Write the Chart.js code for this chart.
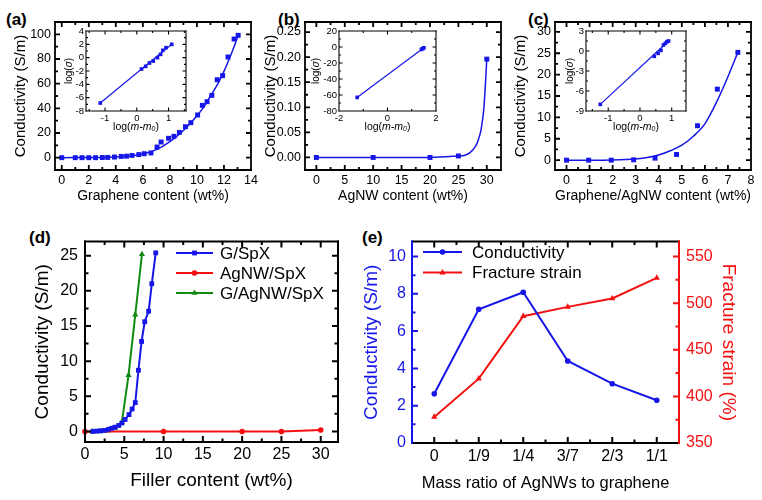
<!DOCTYPE html>
<html>
<head>
<meta charset="utf-8">
<script src="https://cdn.jsdelivr.net/npm/chart.js@4.4.1/dist/chart.umd.min.js"></script>
<style>
  body { margin: 0; width: 762px; height: 500px; background: #fff; position: relative; overflow: hidden; font-family: "Liberation Sans", Arial, sans-serif; }
  canvas { position: absolute; }
  .tag { position: absolute; font-weight: bold; font-size: 17px; line-height: 17px; }
</style>
</head>
<body>
<div class="tag" style="left:6px;top:11px">(a)</div>
<div class="tag" style="left:278px;top:11px">(b)</div>
<div class="tag" style="left:528px;top:11px">(c)</div>
<div class="tag" style="left:29px;top:229px">(d)</div>
<div class="tag" style="left:362px;top:229px">(e)</div>

<canvas id="ca" width="262" height="215" style="left:0;top:0"></canvas>
<canvas id="cb" width="262" height="215" style="left:250px;top:0"></canvas>
<canvas id="cc" width="262" height="215" style="left:500px;top:0"></canvas>
<canvas id="ia" width="135" height="115" style="left:56px;top:20px"></canvas>
<canvas id="ib" width="135" height="115" style="left:309px;top:20px"></canvas>
<canvas id="ic" width="135" height="115" style="left:556px;top:20px"></canvas>
<canvas id="cd" width="350" height="275" style="left:0;top:225px"></canvas>
<canvas id="ce" width="412" height="275" style="left:350px;top:225px"></canvas>

<script>
// ---- data ----

// (a) graphene / SpX
const aContent = [0, 1, 1.5, 2, 2.5, 3, 3.4, 3.9, 4.4, 4.8, 5.2, 5.7, 6.1, 6.6, 7.05, 7.35, 7.9, 8.3, 8.7, 9.15, 9.55, 10.05, 10.4, 10.75, 11.1, 11.5, 11.9, 12.3, 12.75, 13.05];
const aCond = [0, 0, 0, 0, 0, 0.1, 0.2, 0.5, 1.0, 1.2, 1.8, 2.5, 3.2, 3.8, 8.6, 12.7, 15.7, 17.3, 20.5, 25.1, 28.4, 34.6, 42.4, 45.4, 50.5, 63.2, 66.5, 81.6, 96.2, 99.2];
const aFitX = [0, 3, 4, 5, 6, 7, 8, 9, 10, 10.5, 11, 11.5, 12, 12.5, 13.05];
const aFitY = [0, 0.2, 0.5, 1.3, 3, 6.5, 13, 22, 34, 41, 50, 59, 70, 83, 99];
const aLogX = [-1.15, 0.15, 0.28, 0.4, 0.52, 0.65, 0.75, 0.82, 0.92, 1.1];
const aLogY = [-6.8, -1.7, -1.3, -0.8, -0.5, 0, 0.5, 1.1, 1.5, 2.0];
const aLineX = [-1.15, 1.1];
const aLineY = [-6.8, 2.0];

// (b) AgNW / SpX
const bContent = [0, 10, 20, 25, 30];
const bCond = [0, 0, 0, 0.003, 0.196];
const bFitX = [0, 10, 20, 25, 26, 27, 28, 28.5, 29, 29.5, 30];
const bFitY = [0, 0, 0, 0.003, 0.004, 0.009, 0.022, 0.035, 0.056, 0.1, 0.196];
const bLogX = [-1.25, 1.4, 1.45, 1.5];
const bLogY = [-63, -3, -2, -1];
const bLineX = [-1.25, 1.5];
const bLineY = [-63, -1];

// (c) graphene/AgNW / SpX
const cContent = [0, 0.96, 1.94, 2.91, 3.84, 4.77, 5.68, 6.54, 7.43];
const cCond = [0, 0, 0, 0.08, 0.47, 1.33, 8.05, 16.6, 25.2];
const cFitX = [0, 1, 2, 3, 3.5, 4, 4.5, 5, 5.5, 6, 6.5, 7, 7.43];
const cFitY = [0, 0, 0.05, 0.3, 0.6, 1.2, 2.2, 3.5, 5.6, 8.5, 13.5, 19.5, 25.2];
const cLogX = [-1.25, 0.45, 0.57, 0.66, 0.74, 0.8, 0.85, 0.9];
const cLogY = [-8, -0.8, -0.35, 0.1, 0.9, 1.15, 1.4, 1.5];
const cLineX = [-1.25, 0.9];
const cLineY = [-8, 1.5];

// (d) all three fillers
const dGX = [1, 1.5, 2, 2.5, 3, 3.4, 3.8, 4.3, 4.7, 5.1, 5.6, 6.0, 6.4, 6.8, 7.2, 7.6, 8.1, 8.5, 9.0];
const dGY = [0, 0.05, 0.1, 0.15, 0.3, 0.45, 0.6, 0.85, 1.2, 1.7, 2.4, 3.2, 4.1, 8.7, 12.8, 15.6, 17.1, 21.0, 25.4];
const dAX = [0, 10, 20, 25, 30];
const dAY = [0, 0, 0, 0, 0.2];
const dGAX = [0.94, 1.88, 2.85, 3.84, 4.69, 5.54, 6.4, 7.25];
const dGAY = [0, 0, 0.1, 0.5, 1.3, 8.0, 16.6, 25.2];

// (e) mass ratio
const ratios = ['0', '1/9', '1/4', '3/7', '2/3', '1/1'];
const eCond = [2.64, 7.17, 8.08, 4.40, 3.18, 2.29];
const eStrain = [378, 419, 486, 496, 505, 527];

// tick labels
const aXTicks = [0, 2, 4, 6, 8, 10, 12, 14];
const aYTicks = [0, 20, 40, 60, 80, 100];
const bXTicks = [0, 5, 10, 15, 20, 25, 30];
const bYTicks = [0, 0.05, 0.10, 0.15, 0.20, 0.25];
const cXTicks = [0, 1, 2, 3, 4, 5, 6, 7, 8];
const cYTicks = [0, 5, 10, 15, 20, 25, 30];
const iaXTicks = [-1, 0, 1];
const iaYTicks = [-8, -6, -4, -2, 0, 2, 4];
const ibXTicks = [-2, 0, 2];
const ibYTicks = [-80, -60, -40, -20, 0, 20];
const icXTicks = [-1, 0, 1];
const icYTicks = [-9, -6, -3, 0, 3];
const dXTicks = [0, 5, 10, 15, 20, 25, 30];
const dYTicks = [0, 5, 10, 15, 20, 25];
const eYTicks = [0, 2, 4, 6, 8, 10];
const eY2Ticks = [350, 400, 450, 500, 550];

const blue = '#1616e8';
const red = '#f41010';
const green = '#118a11';
const FAM = '"Liberation Sans", Arial, sans-serif';

Chart.defaults.font.family = FAM;
Chart.defaults.color = '#000';

// box round the plot area with inward major + minor ticks
const frame = {
  id: 'frame',
  afterDraw(chart, args, o) {
    const ctx = chart.ctx, a = chart.chartArea;
    ctx.save();
    ctx.lineWidth = o.lw;
    ctx.lineCap = 'butt';
    o.axes.forEach(ax => {
      const s = chart.scales[ax.id];
      const major = s.ticks.map(t => t.value);
      const minor = [];
      for (let i = 0; i < major.length - 1; i++) minor.push((major[i] + major[i + 1]) / 2);
      if (major.length > 1) {
        const h = (major[1] - major[0]) / 2;
        minor.push(major[0] - h, major[major.length - 1] + h);
      }
      ctx.strokeStyle = ax.color;
      ctx.beginPath();
      const mark = (v, len) => {
        const p = s.getPixelForValue(v);
        if (s.isHorizontal() ? (p <= a.left + 1 || p >= a.right - 1) : (p <= a.top + 1 || p >= a.bottom - 1)) return;
        ax.sides.forEach(side => {
          if (side === 'bottom') { ctx.moveTo(p, a.bottom); ctx.lineTo(p, a.bottom - len); }
          if (side === 'top') { ctx.moveTo(p, a.top); ctx.lineTo(p, a.top + len); }
          if (side === 'left') { ctx.moveTo(a.left, p); ctx.lineTo(a.left + len, p); }
          if (side === 'right') { ctx.moveTo(a.right, p); ctx.lineTo(a.right - len, p); }
        });
      };
      major.forEach(v => mark(v, o.major));
      minor.forEach(v => mark(v, o.minor));
      ctx.stroke();
    });
    const b = o.borders || {};
    ctx.lineCap = 'square';
    const edge = (c, x1, y1, x2, y2) => {
      ctx.strokeStyle = c;
      ctx.beginPath(); ctx.moveTo(x1, y1); ctx.lineTo(x2, y2); ctx.stroke();
    };
    edge(b.top || '#000', a.left, a.top, a.right, a.top);
    edge(b.bottom || '#000', a.left, a.bottom, a.right, a.bottom);
    edge(b.left || '#000', a.left, a.top, a.left, a.bottom);
    edge(b.right || '#000', a.right, a.top, a.right, a.bottom);
    ctx.restore();
  }
};

// legend drawn inside the plot
const keyBox = {
  id: 'keyBox',
  afterDraw(chart, args, o) {
    const ctx = chart.ctx;
    ctx.save();
    ctx.font = o.fs + 'px ' + FAM;
    ctx.textBaseline = 'middle';
    chart.data.datasets.forEach((ds, i) => {
      const y = o.y + i * o.gap;
      ctx.strokeStyle = ds.borderColor;
      ctx.lineWidth = ds.borderWidth;
      ctx.beginPath(); ctx.moveTo(o.x, y); ctx.lineTo(o.x + o.len, y); ctx.stroke();
      ctx.fillStyle = ds.backgroundColor;
      Chart.helpers.drawPoint(ctx, { pointStyle: ds.pointStyle, radius: ds.pointRadius, borderWidth: 0, rotation: 0 }, o.x + o.len / 2, y);
      ctx.fillStyle = '#000';
      ctx.fillText(ds.label, o.x + o.len + o.sp, y + 1);
    });
    ctx.restore();
  }
};

// inset axis titles with italic parts
const insetTitles = {
  id: 'insetTitles',
  afterDraw(chart, args, o) {
    const ctx = chart.ctx, a = chart.chartArea;
    ctx.save();
    ctx.fillStyle = '#000';
    ctx.textBaseline = 'middle';
    const run = (list, x, y) => {
      const w = list.map(p => { ctx.font = p.f + ' ' + FAM; return ctx.measureText(p.t).width; });
      let cx = x - w.reduce((s, v) => s + v, 0) / 2;
      list.forEach((p, i) => { ctx.font = p.f + ' ' + FAM; ctx.fillText(p.t, cx, y + (p.dy || 0)); cx += w[i]; });
    };
    run([{ t: 'log(', f: '10.5px' }, { t: 'm', f: 'italic 10.5px' }, { t: '-', f: 'italic 10.5px' }, { t: 'm', f: 'italic 10.5px' },
         { t: '0', f: 'italic 7px', dy: 2.5 }, { t: ')', f: '10.5px' }], (a.left + a.right) / 2, a.bottom + o.xDy);
    ctx.translate(a.left - o.yDx, (a.top + a.bottom) / 2);
    ctx.rotate(-Math.PI / 2);
    run([{ t: 'log(', f: '10px' }, { t: 'σ', f: 'italic 10px' }, { t: ')', f: '10px' }], 0, 0);
    ctx.restore();
  }
};

function pts(xs, ys) { return xs.map((x, i) => ({ x: x, y: ys[i] })); }

function marks(xs, ys, color, r) {
  return { data: pts(xs, ys), showLine: false, pointStyle: 'rect', pointRadius: r, backgroundColor: color, borderColor: color, pointBorderWidth: 0, clip: false };
}
function curve(xs, ys, color, w) {
  return { data: pts(xs, ys), showLine: true, pointRadius: 0, borderColor: color, borderWidth: w, cubicInterpolationMode: 'monotone', fill: false };
}

function axis(o) {
  const ax = {
    type: o.type || 'linear', position: o.pos,
    grid: { display: false, drawTicks: false }, border: { display: false },
    afterFit: s => { if (s.isHorizontal()) s.height = o.size; else s.width = o.size; },
    ticks: { font: { size: o.fs }, padding: o.pad, color: o.color || '#000', maxRotation: 0, autoSkip: false },
    title: { display: !!o.title, text: o.title, color: o.color || '#000', font: { size: o.tfs }, padding: o.tpad || 0 }
  };
  if (o.min !== undefined) { ax.min = o.min; ax.max = o.max; }
  if (o.ticks) ax.afterBuildTicks = s => { s.ticks = o.ticks.map(v => ({ value: v })); };
  if (o.fmt) ax.ticks.callback = o.fmt;
  if (o.type === 'category') ax.offset = true;
  return ax;
}

function opts(pad, scales, plug) {
  return {
    responsive: false, animation: false, devicePixelRatio: 1,
    layout: { padding: pad },
    scales: scales,
    plugins: Object.assign({ legend: { display: false }, tooltip: { enabled: false } }, plug)
  };
}

const mainFrame = { lw: 1.8, major: 5, minor: 3,
  axes: [{ id: 'x', sides: ['bottom', 'top'], color: '#000' }, { id: 'y', sides: ['left', 'right'], color: '#000' }] };
const insetFrame = { lw: 1.1, major: 3.5, minor: 2,
  axes: [{ id: 'x', sides: ['bottom', 'top'], color: '#000' }, { id: 'y', sides: ['left', 'right'], color: '#000' }] };

function mainPanel(id, datasets, xr, yr, xTicks, yTicks, xTitle, fmt) {
  new Chart(document.getElementById(id), {
    type: 'scatter',
    data: { datasets: datasets },
    options: opts({ top: 22, right: 11, left: 0, bottom: 0 }, {
      x: axis({ pos: 'bottom', min: xr[0], max: xr[1], ticks: xTicks, size: 45, fs: 12.5, pad: 3, title: xTitle, tfs: 14, tpad: { bottom: 10 } }),
      y: axis({ pos: 'left', min: yr[0], max: yr[1], ticks: yTicks, size: 55, fs: 12.5, pad: 4, title: 'Conductivity (S/m)', tfs: 15, tpad: { top: 12 }, fmt: fmt })
    }, { frame: mainFrame }),
    plugins: [frame]
  });
}

function insetPanel(id, xs, ys, lx, ly, xr, yr, xTicks, yTicks, rp, yDx) {
  new Chart(document.getElementById(id), {
    type: 'scatter',
    data: { datasets: [marks(xs, ys, blue, 2.6), curve(lx, ly, blue, 1.2)] },
    options: opts({ top: 11, right: rp, left: 0, bottom: 0 }, {
      x: axis({ pos: 'bottom', min: xr[0], max: xr[1], ticks: xTicks, size: 24, fs: 9.5, pad: 2 }),
      y: axis({ pos: 'left', min: yr[0], max: yr[1], ticks: yTicks, size: 30, fs: 9.5, pad: 2 })
    }, { frame: insetFrame, insetTitles: { xDy: 16, yDx: yDx } }),
    plugins: [frame, insetTitles]
  });
}

mainPanel('ca', [marks(aContent, aCond, blue, 3.5), curve(aFitX, aFitY, blue, 1.5)],
  [-0.5, 14], [-10, 110], aXTicks, aYTicks, 'Graphene content (wt%)');
mainPanel('cb', [marks(bContent, bCond, blue, 3.5), curve(bFitX, bFitY, blue, 1.5)],
  [-2, 32.5], [-0.025, 0.27], bXTicks, bYTicks, 'AgNW content (wt%)', v => v.toFixed(2));
mainPanel('cc', [marks(cContent, cCond, blue, 3.5), curve(cFitX, cFitY, blue, 1.5)],
  [-0.5, 8], [-2.3, 32.3], cXTicks, cYTicks, 'Graphene/AgNW content (wt%)');

insetPanel('ia', aLogX, aLogY, aLineX, aLineY, [-1.6, 1.55], [-8, 4], iaXTicks, iaYTicks, 5, 17);
insetPanel('ib', bLogX, bLogY, bLineX, bLineY, [-2, 2], [-80, 20], ibXTicks, ibYTicks, 8, 23);
insetPanel('ic', cLogX, cLogY, cLineX, cLineY, [-1.7, 1.45], [-9, 3], icXTicks, icYTicks, 5, 16);

// (d)
function series(label, xs, ys, color, style, r) {
  return { label: label, data: pts(xs, ys), showLine: true, pointStyle: style, pointRadius: r, borderColor: color, backgroundColor: color,
           borderWidth: 2, pointBorderWidth: 0, tension: 0, clip: false };
}
new Chart(document.getElementById('cd'), {
  type: 'scatter',
  data: { datasets: [
    series('G/SpX', dGX, dGY, blue, 'rect', 3.4),
    series('AgNW/SpX', dAX, dAY, red, 'circle', 2.8),
    series('G/AgNW/SpX', dGAX, dGAY, green, 'triangle', 3.6)
  ] },
  options: opts({ top: 12, right: 12, left: 0, bottom: 0 }, {
    x: axis({ pos: 'bottom', min: 0, max: 32.2, ticks: dXTicks, size: 58, fs: 16, pad: 3, title: 'Filler content (wt%)', tfs: 19, tpad: { bottom: 8 } }),
    y: axis({ pos: 'left', min: -1.5, max: 27, ticks: dYTicks, size: 85, fs: 16, pad: 7, title: 'Conductivity (S/m)', tfs: 19, tpad: { top: 31 } })
  }, {
    frame: { lw: 2, major: 6, minor: 3.5,
      axes: [{ id: 'x', sides: ['bottom', 'top'], color: '#000' }, { id: 'y', sides: ['left', 'right'], color: '#000' }] },
    keyBox: { x: 176, y: 28, gap: 20, len: 37, sp: 7, fs: 17 }
  }),
  plugins: [frame, keyBox]
});

// (e)
new Chart(document.getElementById('ce'), {
  type: 'line',
  data: { labels: ratios, datasets: [
    { label: 'Conductivity', data: eCond, yAxisID: 'y', borderColor: blue, backgroundColor: blue, borderWidth: 2,
      pointStyle: 'circle', pointRadius: 2.8, pointBorderWidth: 0, tension: 0, clip: false },
    { label: 'Fracture strain', data: eStrain, yAxisID: 'y2', borderColor: red, backgroundColor: red, borderWidth: 2,
      pointStyle: 'triangle', pointRadius: 3.6, pointBorderWidth: 0, tension: 0, clip: false }
  ] },
  options: opts({ top: 12, right: 0, left: 0, bottom: 0 }, {
    x: axis({ type: 'category', pos: 'bottom', size: 57, fs: 16, pad: 4, title: 'Mass ratio of AgNWs to graphene', tfs: 16.5, tpad: { bottom: 7 } }),
    y: axis({ pos: 'left', min: 0, max: 10.8, ticks: eYTicks, size: 62, fs: 16, pad: 6, color: blue, title: 'Conductivity (S/m)', tfs: 19, tpad: { top: 10 } }),
    y2: axis({ pos: 'right', min: 350, max: 566, ticks: eY2Ticks, size: 83, fs: 16, pad: 7, color: red, title: 'Fracture strain (%)', tfs: 19, tpad: { top: 22 } })
  }, {
    frame: { lw: 2, major: 6, minor: 3.5,
      axes: [{ id: 'x', sides: ['bottom', 'top'], color: '#000' }, { id: 'y', sides: ['left'], color: blue }, { id: 'y2', sides: ['right'], color: red }],
      borders: { left: blue, right: red } },
    keyBox: { x: 73, y: 27, gap: 20.6, len: 39, sp: 10, fs: 17 }
  }),
  plugins: [frame, keyBox]
});
</script>
</body>
</html>
